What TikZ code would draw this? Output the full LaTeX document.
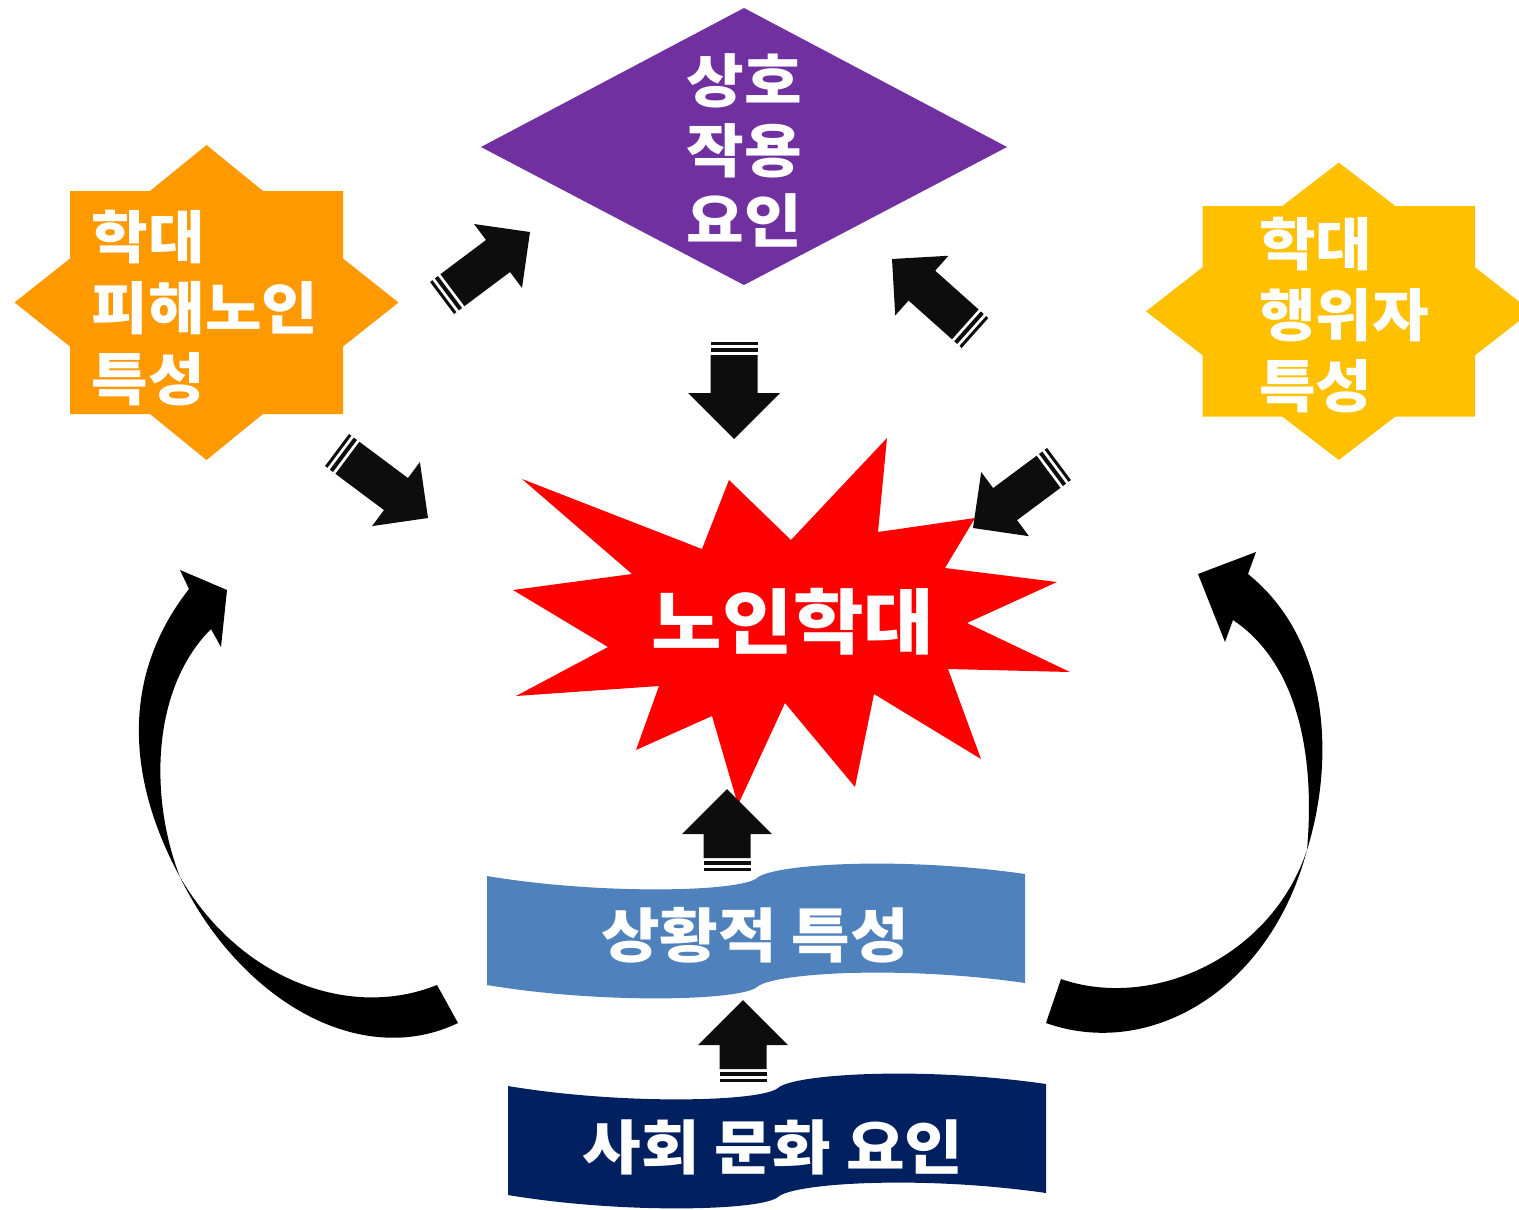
\documentclass[tikz,border=0pt]{standalone}
\usepackage{fontspec}
\newfontfamily\kr{Noto Sans CJK KR}[FakeStretch=1.08]
\usetikzlibrary{calc}
\definecolor{orng}{HTML}{FF9900}
\definecolor{gold}{HTML}{FFC000}
\definecolor{purp}{HTML}{7030A0}
\definecolor{lblue}{HTML}{4F81BD}
\definecolor{navy}{HTML}{002060}
\definecolor{ink}{HTML}{0D0D0D}
\begin{document}
\begin{tikzpicture}[x=1pt,y=-1pt,lbl/.style={text=white,inner sep=0pt,align=#1}]
	\useasboundingbox (0,0) rectangle (1519,1210);
	\def\octstar#1#2#3#4#5#6#7{\fill[#7] (#1)+(-#6,-#3)--+(0,-#5)--+(#6,-#3)--+(#2,-#3)--+(#2,-44)--+(#4,0)--+(#2,44)--+(#2,#3)--+(#6,#3)--+(0,#5)--+(-#6,#3)--+(-#2,#3)--+(-#2,44)--+(-#4,0)--+(-#2,-44)--+(-#2,-#3)--cycle;}
	\def\stripearrow#1#2#3#4{
		\path ($(#1)!13pt!(#2)$) coordinate (s0) ($(#2)!#4pt!(#1)$) coordinate (s1);
		\fill[ink] ($(s0)!#3pt!90:(#2)$)--($(s1)!#3pt!90:(#2)$)--($(s1)!#4pt!90:(#2)$)--(#2)--($(s1)!#4pt!-90:(#2)$)--($(s1)!#3pt!-90:(#2)$)--($(s0)!#3pt!-90:(#2)$)--cycle;
		\foreach \u/\v in {0pt/3pt,6pt/10pt}{
			\path ($(#1)!\u!(#2)$) coordinate (p) ($(#1)!\v!(#2)$) coordinate (q);
			\fill[ink] ($(p)!#3pt!90:(#2)$)--($(q)!#3pt!90:(#2)$)--($(q)!#3pt!-90:(#2)$)--($(p)!#3pt!-90:(#2)$)--cycle;}
	}
	\path (206.5,302.5) coordinate (cv) (1338.8,311.3) coordinate (ca);
	\octstar{cv}{136.5}{111.5}{192}{157.5}{56.5}{orng}
	\octstar{ca}{136.2}{105.3}{192.8}{148.7}{56.5}{gold}
	\fill[purp] (744,8)--(1007,147)--(744,285)--(481,147)--cycle;
	\fill[red] (522,479)--(702,549)--(729,480)--(791,540)--(887,438)--(878,532)--(975,518)--(945,568)--(1057,582)--(967,623)--(1070,672)--(948,669)--(981,759)--(874,694)--(855,787)--(785,703)--(738,805)--(712,716)--(636,750)--(659,686)--(516,696)--(608,647)--(513,590)--(632,574)--cycle;
	\foreach \c/\dx/\dy in {lblue/0/0,navy/21/210}
		\fill[\c,shift={(\dx,\dy)}] (487,876) .. controls (600,895) and (740,892) .. (757,878) .. controls (772,864) and (900,856) .. (1025,874)--(1025,983) .. controls (900,965) and (772,973) .. (757,987) .. controls (740,1001) and (600,1004) .. (487,985)--cycle;
	\fill (458,1023) .. controls (360,1070) and (240,1000) .. (180,877) .. controls (138,800) and (110,690) .. (189,589)--(180,570)--(227,590)--(221,647)--(211,629) .. controls (150,690) and (150,800) .. (180,877) .. controls (240,980) and (350,1020) .. (437,985)--cycle;
	\fill (1046,1023) .. controls (1150,1060) and (1270,990) .. (1307,850) .. controls (1335,760) and (1330,640) .. (1248,574)--(1256,552)--(1198,574)--(1225,642)--(1233,620) .. controls (1300,665) and (1315,760) .. (1307,850) .. controls (1270,960) and (1150,1010) .. (1061,979)--cycle;
	\node[lbl=left,font=\kr\bfseries\fontsize{57}{71}\selectfont] (victim) at (205,308.5) {학대\\피해노인\\특성};
	\node[lbl=left,font=\kr\bfseries\fontsize{57}{71}\selectfont] (abuser) at (1344,315) {학대\\행위자\\특성};
	\node[lbl=center,font=\kr\bfseries\fontsize{58}{70}\selectfont] (inter) at (744,150) {상호\\작용\\요인};
	\node[lbl=center,font=\kr\bfseries\fontsize{71}{84}\selectfont] (abuse) at (793,622) {노인학대};
	\node[lbl=center,font=\kr\bfseries\fontsize{59}{70}\selectfont] (situ) at (755,935) {상황적 특성};
	\node[lbl=center,font=\kr\bfseries\fontsize{59}{70}\selectfont] (socio) at (773,1147) {사회 문화 요인};
	\path (442,298) coordinate (a1) (530,232) coordinate (b1)
	(975,333) coordinate (a2) (892,259) coordinate (b2)
	(734,342) coordinate (a3) (734,439) coordinate (b3)
	(337,450) coordinate (a4) (428,518) coordinate (b4)
	(1059,464) coordinate (a5) (973,528) coordinate (b5)
	(727,871) coordinate (a6) (727,789) coordinate (b6)
	(743,1082) coordinate (a7) (743,1000) coordinate (b7);
	\foreach \t/\h/\w/\k in {a1/b1/20/40,a2/b2/20/40,a3/b3/23.5/46,a4/b4/20/40,a5/b5/20/40,a6/b6/23.5/45,a7/b7/23.5/45}
		{\stripearrow{\t}{\h}{\w}{\k}}
\end{tikzpicture}
\end{document}
